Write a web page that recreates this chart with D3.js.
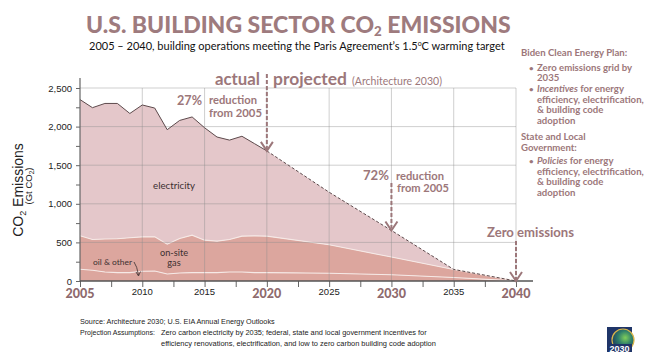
<!DOCTYPE html>
<html><head><meta charset="utf-8">
<script src="https://cdn.jsdelivr.net/npm/d3@7"></script>
<style>
html,body{margin:0;padding:0;background:#fff;}
svg{display:block;}
</style></head>
<body>
<svg id="c" width="653" height="355"></svg>
<script>
// ---- data ----
const years       = [2005,2006,2007,2008,2009,2010,2011,2012,2013,2014,2015,2016,2017,2018,2019,2020,2025,2030,2035,2040];
const oilOther    = [152,139,117,109,109,126,130,91,104,109,109,109,117,117,109,109,100,80,45,0];
const onsiteGas   = [433,399,428,439,451,446,442,386,446,485,420,407,421,464,476,472,370,230,105,0];
const electricity = [1765,1707,1755,1752,1610,1708,1668,1483,1530,1531,1456,1349,1287,1294,1195,1104,680,345,0,0];
const lastActualYear = 2020;
const yTicks      = [0,250,500,750,1000,1250,1500,1750,2000,2250,2500];
const yTickLabels = ["0","","500","","1,000","","1,500","","2,000","","2,500"];
const xTicks      = [2005,2007.5,2010,2012.5,2015,2017.5,2020,2022.5,2025,2027.5,2030,2032.5,2035,2037.5,2040];
const xLabelYears = [2005,2010,2015,2020,2025,2030,2035,2040];
const xBoldYears  = [2005,2020,2030,2040];
const yGrid       = [500,1000,1500,2000,2500];
const xGrid       = [2010,2015,2020,2025,2030,2035,2040];

const MAUVE = "#9c777a", DARK="#3b2f30";
const GEO = "Lato, 'Open Sans', sans-serif";
const HEL = "'Liberation Sans', Arial, sans-serif";

const svg = d3.select("#c");
const x = d3.scaleLinear().domain([2005,2040]).range([80,516]);
const y = d3.scaleLinear().domain([0,2500]).range([281,88]);

function fit(sel, w){ // scale font-size so text width = w
  const n = sel.node(); const fs = parseFloat(sel.attr("font-size"));
  const l = n.getComputedTextLength(); if(l>0) sel.attr("font-size", fs*w/l);
  return sel;
}

// ---- areas ----
const rows = years.map((yr,i)=>({year:yr, oil:oilOther[i], gas:onsiteGas[i], electricity:electricity[i]}));
const stack = d3.stack().keys(["oil","gas","electricity"])(rows);
const fills = {oil:"#dca69e", gas:"#dca69e", electricity:"#e4c7ca"};
const area = d3.area().x(d=>x(d.data.year)).y0(d=>y(d[0])).y1(d=>y(d[1]));
svg.append("g").selectAll("path").data(stack).join("path")
  .attr("d", area).attr("fill", d=>fills[d.key]);

// separators
const topLine = d3.line().x(d=>x(d.data.year)).y(d=>y(d[1]));
svg.append("g").selectAll("path").data(stack.slice(0,2)).join("path")
  .attr("d", topLine).attr("fill","none").attr("stroke","#f6e9e6").attr("stroke-width",1.1);

// ---- grid ----
const grid = svg.append("g").attr("stroke","rgba(140,140,140,0.42)").attr("stroke-width",1);
grid.selectAll(".h").data(yGrid).join("line")
  .attr("x1",x(2005)).attr("x2",x(2040)).attr("y1",d=>y(d)).attr("y2",d=>y(d));
grid.selectAll(".v").data(xGrid).join("line")
  .attr("x1",d=>x(d)).attr("x2",d=>x(d)).attr("y1",y(0)).attr("y2",y(2500));

// top boundary line
const total = stack[2];
const actual = total.filter(d=>d.data.year<=lastActualYear);
const proj = total.filter(d=>d.data.year>=lastActualYear);
svg.append("path").attr("d", topLine(actual)).attr("fill","none").attr("stroke","#5d4a4c").attr("stroke-width",1);
svg.append("path").attr("d", topLine(proj)).attr("fill","none").attr("stroke","#5d4a4c").attr("stroke-width",1).attr("stroke-dasharray","3,2");

// ---- axes ----
const ya = svg.append("g").attr("transform",`translate(${x(2005)},0)`)
  .call(d3.axisLeft(y).tickValues(yTicks).tickSize(4).tickFormat((d,i)=>yTickLabels[i]));
ya.select(".domain").remove();
ya.selectAll("line").attr("stroke","#666");
ya.selectAll("text").attr("font-family",HEL).attr("font-size",9.5).attr("fill","#222").attr("x",-8);
svg.append("line").attr("x1",x(2005)).attr("x2",x(2005)).attr("y1",y(0)).attr("y2",y(2500)-10).attr("stroke","#666").attr("stroke-width",1.2);

const xa = svg.append("g").attr("transform",`translate(0,${y(0)})`)
  .call(d3.axisBottom(x).tickValues(xTicks).tickSize(6).tickFormat(""));
xa.select(".domain").remove();
xa.selectAll("line").attr("stroke","#666");
svg.append("line").attr("x1",x(2005)).attr("x2",x(2040)+17).attr("y1",y(0)).attr("y2",y(0)).attr("stroke","#555").attr("stroke-width",1.3);

svg.append("g").selectAll("text").data(xLabelYears).join("text")
  .attr("x",d=>x(d)).attr("y",d=>xBoldYears.includes(d)?298:295)
  .attr("text-anchor","middle")
  .attr("font-family",d=>xBoldYears.includes(d)?GEO:HEL)
  .attr("font-weight",d=>xBoldYears.includes(d)?900:400)
  .attr("font-size",d=>xBoldYears.includes(d)?12.5:9.5)
  .attr("fill",d=>xBoldYears.includes(d)?"#8e6a6d":"#222")
  .text(d=>d);

// y title
const yt = svg.append("text").attr("transform","translate(23,190) rotate(-90)")
  .attr("text-anchor","middle").attr("font-family",HEL).attr("font-size",14).attr("fill","#222");
yt.append("tspan").text("CO");
yt.append("tspan").attr("font-size",9).attr("dy",3).text("2");
yt.append("tspan").attr("dy",-3).text(" Emissions");
const yt2 = svg.append("text").attr("transform","translate(32,186) rotate(-90)")
  .attr("text-anchor","middle").attr("font-family",HEL).attr("font-size",9.5).attr("fill","#222");
yt2.append("tspan").text("(Gt CO");
yt2.append("tspan").attr("font-size",6.5).attr("dy",2).text("2");
yt2.append("tspan").attr("dy",-2).text(")");

// ---- title ----
const t = svg.append("text").attr("x",86).attr("y",33).attr("font-family",GEO).attr("font-weight",900)
  .attr("font-size",25).attr("fill","#9e7b7e");
t.append("tspan").text("U.S. BUILDING SECTOR CO");
t.append("tspan").attr("font-size",15).attr("dy",3).text("2");
t.append("tspan").attr("dy",-3).text(" EMISSIONS");
fit(t,425);
t.selectAll("tspan").filter((d,i)=>i==1).attr("font-size", parseFloat(t.attr("font-size"))*0.58);

const st = svg.append("text").attr("x",89).attr("y",50).attr("font-family",GEO).attr("font-size",11.5).attr("fill","#111");
st.append("tspan").text("2005 – 2040, building operations meeting the Paris Agreement’s 1.5");
st.append("tspan").attr("font-size",7).attr("dy",-4).text("o");
st.append("tspan").attr("dy",4).text("C warming target");
fit(st,416);

// ---- annotations ----
function ann(txt,xx,yy,fs,w,weight,col,anchor){
  const s = svg.append("text").attr("x",xx).attr("y",yy).attr("font-family",GEO).attr("font-weight",weight)
    .attr("font-size",fs).attr("fill",col).attr("text-anchor",anchor||"start").text(txt);
  if(w) fit(s,w); return s;
}
ann("actual",215,85,17,45,700,MAUVE);
ann("projected",273,85,17,74,700,MAUVE);
ann("(Architecture 2030)",352,85,11,90,400,MAUVE);
ann("27%",177,105,15,25,700,MAUVE);
ann("reduction",209,104,11,48,700,MAUVE);
ann("from 2005",209,117,11,53,700,MAUVE);
ann("72%",363,180,15,26,700,MAUVE);
ann("reduction",396,180,11,48,700,MAUVE);
ann("from 2005",397,192,11,52,700,MAUVE);
ann("Zero emissions",487,237,14,87,700,MAUVE);
ann("electricity",174,189,10,42,400,DARK,"middle");
ann("on-site",174,256,9.2,null,400,DARK,"middle");
ann("gas",174,266,9.2,null,400,DARK,"middle");
ann("oil & other",93,265,8.5,39,400,DARK);

// dashed arrows
function darrow(yr, yTop, val){
  const xx = x(yr), yb = y(val);
  svg.append("line").attr("x1",xx).attr("x2",xx).attr("y1",yTop).attr("y2",yb-2)
    .attr("stroke",MAUVE).attr("stroke-width",2).attr("stroke-dasharray","4,2");
  svg.append("path").attr("d",`M${xx-6},${yb-9}L${xx},${yb}L${xx+6},${yb-9}`)
    .attr("fill","none").attr("stroke",MAUVE).attr("stroke-width",2);
}
darrow(2020, 74, electricity[15]+onsiteGas[15]+oilOther[15]);
darrow(2030, 183, electricity[17]+onsiteGas[17]+oilOther[17]);
darrow(2040, 241, 0);

// oil & other arrow
svg.append("path").attr("d","M134,262 Q137,266 138.5,275").attr("fill","none").attr("stroke","#3b2f30").attr("stroke-width",0.8);
svg.append("path").attr("d","M136,272 L138.5,276 L140.5,271.5").attr("fill","none").attr("stroke","#3b2f30").attr("stroke-width",0.8);

// ---- right panel ----
const panel = [
  {t:"Biden Clean Energy Plan:", x:521, y:56, b:false},
  {t:"Zero emissions grid by", x:537, y:70.5, b:true},
  {t:"2035", x:537, y:81, b:false},
  {t:"<i>Incentives</i> for energy", x:537, y:92, b:true},
  {t:"efficiency, electrification,", x:537, y:102.5, b:false},
  {t:"& building code", x:537, y:113, b:false},
  {t:"adoption", x:537, y:123.5, b:false},
  {t:"State and Local", x:521, y:140, b:false},
  {t:"Government:", x:521, y:150.5, b:false},
  {t:"<i>Policies</i> for energy", x:537, y:164, b:true},
  {t:"efficiency, electrification,", x:537, y:174.5, b:false},
  {t:"& building code", x:537, y:185, b:false},
  {t:"adoption", x:537, y:195.5, b:false}
];
const pg = svg.append("g").attr("font-family",GEO).attr("font-weight",700).attr("font-size",9.6).attr("fill",MAUVE);
panel.forEach(p=>{
  const tx = pg.append("text").attr("x",p.x).attr("y",p.y);
  const m = p.t.match(/^<i>(.*)<\/i>(.*)$/);
  if(m){ tx.append("tspan").attr("font-style","italic").text(m[1]); tx.append("tspan").text(m[2]); }
  else tx.text(p.t);
  if(p.b) pg.append("text").attr("x",p.x-8).attr("y",p.y).attr("font-size",8).text("•");
});

// ---- footer ----
const fg = svg.append("g").attr("font-family",HEL).attr("font-size",7.5).attr("fill","#222");
fit(fg.append("text").attr("x",80).attr("y",324).attr("font-size",7.5).text("Source: Architecture 2030; U.S. EIA Annual Energy Outlooks"),195);
fit(fg.append("text").attr("x",80).attr("y",335).attr("font-size",7.5).text("Projection Assumptions:"),75);
fit(fg.append("text").attr("x",161).attr("y",335).attr("font-size",7.5).text("Zero carbon electricity by 2035; federal, state and local government incentives for"),266);
fit(fg.append("text").attr("x",161).attr("y",346).attr("font-size",7.5).text("efficiency renovations, electrification, and low to zero carbon building code adoption"),275);

// logo
const lg = svg.append("g").attr("transform","translate(607,327)");
const grad = svg.append("defs").append("radialGradient").attr("id","lgG").attr("cx","0.6").attr("cy","0.4").attr("r","0.7");
grad.append("stop").attr("offset","0").attr("stop-color","#7fcf5a");
grad.append("stop").attr("offset","0.45").attr("stop-color","#2f7f6a");
grad.append("stop").attr("offset","1").attr("stop-color","#1c2f5a");
lg.append("rect").attr("width",25).attr("height",25).attr("fill","#1f3568");
lg.append("circle").attr("cx",16).attr("cy",13).attr("r",11).attr("fill","url(#lgG)").attr("stroke","#d9b44a").attr("stroke-width",1.2);
lg.append("rect").attr("x",0).attr("y",17).attr("width",25).attr("height",8).attr("fill","#1f3568");
lg.append("text").attr("x",12.5).attr("y",24.5).attr("text-anchor","middle").attr("font-family",HEL).attr("font-weight",700)
  .attr("font-size",9).attr("fill","#fff").text("2030");
</script>
</body></html>
